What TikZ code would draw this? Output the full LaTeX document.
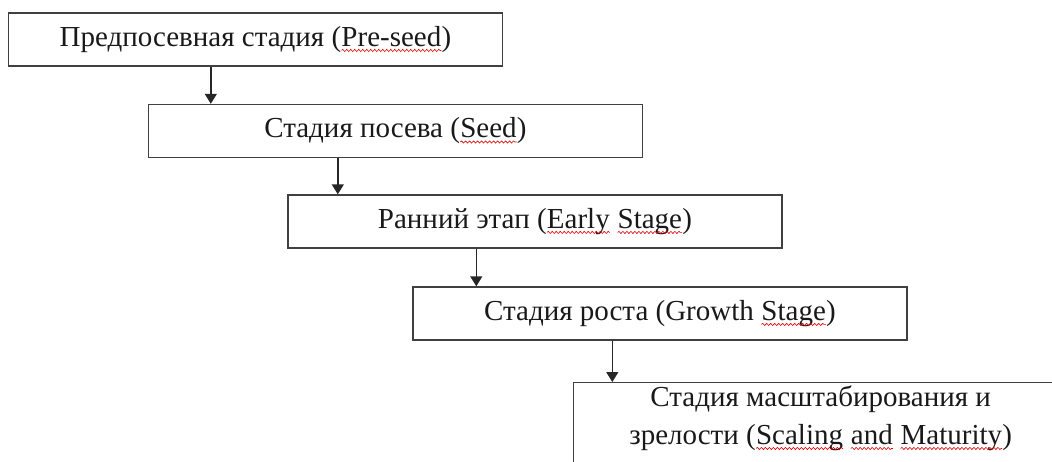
\documentclass[tikz,border=0pt]{standalone}
\usepackage{fontspec}
\setmainfont{Liberation Serif}
\usetikzlibrary{arrows.meta,decorations.pathmorphing}
\newcommand{\redwave}[1]{\tikz[baseline=(w.base)]{\node[draw=none, inner sep=0pt, outer sep=0pt, minimum size=0pt,
        anchor=center, text depth=, text height=, align=left] (w) {#1};
    \draw[red!85!black, line width=0.6pt, decorate, decoration={snake, amplitude=1.1pt, segment length=4pt}]
    ([yshift=-4pt]w.base west) -- ([yshift=-4pt]w.base east);}}

\begin{document}
\begin{tikzpicture}[x=1pt,y=-1pt,
        stage/.style={draw=black!75, line width=1.4pt, minimum width=494pt, minimum height=53pt,
            inner sep=0pt, font=\fontsize{29}{38}\selectfont, text=black!90},
        flow/.style={-{Triangle[length=10pt,width=12pt]}, line width=1.4pt, black!85}]
        \useasboundingbox (0,0) rectangle (1052,461);
        \clip (0,0) rectangle (1052,461);
        \node [stage] (preseed) at (255.5,39.5) {Предпосевная стадия (\redwave{Pre-seed})};
        \node [stage] (seed) at (395.5,131) {Стадия посева (\redwave{Seed})};
        \node [stage] (early) at (535,221.5) {Ранний этап (\redwave{Early} \redwave{Stage})};
        \node [stage] (growth) at (660,313.5) {Стадия роста (Growth \redwave{Stage})};
        \node [stage, anchor=north west, align=center, inner ysep=3pt, text depth=60pt] (scaling) at (573,382)
            {Стадия масштабирования и\\зрелости (\redwave{Scaling} \redwave{and} \redwave{Maturity})};
        \draw [flow] ([xshift=203pt]preseed.south west) -- ([xshift=203pt]preseed.south west |- seed.north);
        \draw [flow] ([xshift=190pt]seed.south west) -- ([xshift=190pt]seed.south west |- early.north);
        \draw [flow] ([xshift=189pt]early.south west) -- ([xshift=189pt]early.south west |- growth.north);
        \draw [flow] ([xshift=200pt]growth.south west) -- ([xshift=200pt]growth.south west |- scaling.north);
\end{tikzpicture}
\end{document}
